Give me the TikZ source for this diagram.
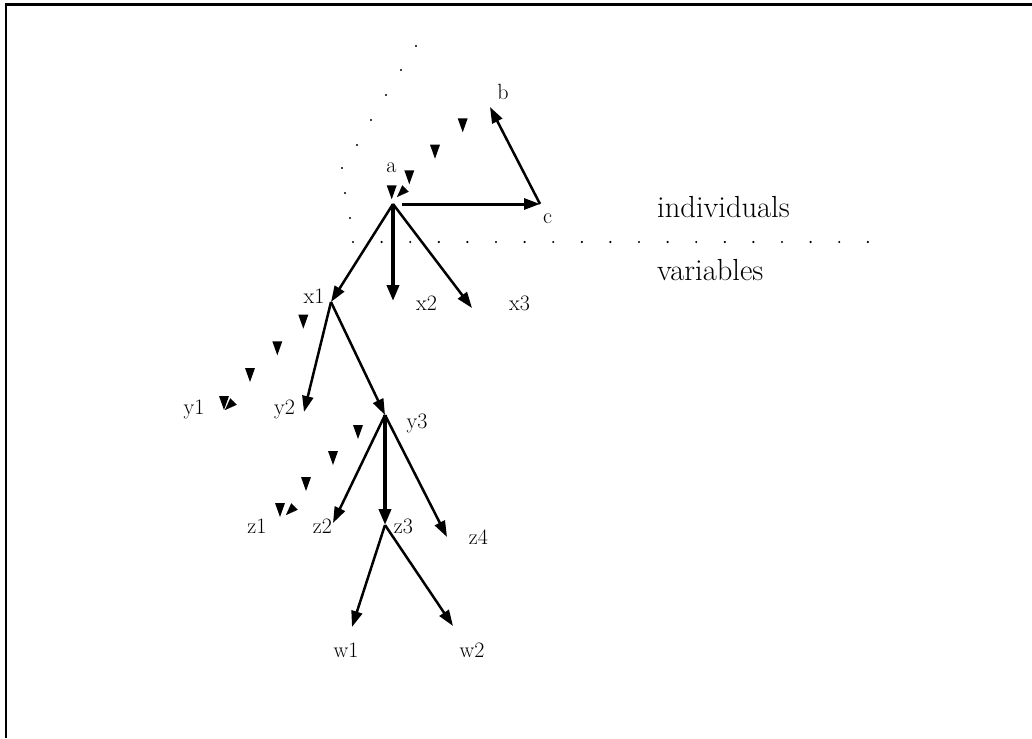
\documentclass[tikz,border=0pt]{standalone}
\usetikzlibrary{arrows.meta,calc}
\tikzset{
  arr/.style={line width=2.5pt, -{Triangle[length=16pt,width=11pt]}},
  thickarr/.style={line width=3.8pt, -{Triangle[length=16pt,width=12pt]}},
  lbl/.style={font=\fontsize{22}{26}\selectfont, inner sep=0pt, anchor=base},
  big/.style={font=\fontsize{30.5}{36}\selectfont, inner sep=0pt, anchor=base west},
  pics/dtri/.style={code={\fill (-5,-7) -- (5,-7) -- (0,7) -- cycle;}},
  endtip/.style={line width=0.01pt, -{Triangle[length=12pt,width=9pt]}},
  frame/.style={line width=2.8pt}
}
\begin{document}
\begin{tikzpicture}[x=1pt,y=-1pt]
\useasboundingbox (0,0) rectangle (1032,738);
\draw[frame] (1032,4.3) -- (6,4.3) -- (6,738);

% points
\coordinate (a) at (393,204);
\coordinate (c) at (540,204);
\coordinate (b) at (490,107);
\coordinate (x1) at (331,302);
\coordinate (x2) at (393,301);
\coordinate (x3) at (472,308);
\coordinate (y2) at (304,412);
\coordinate (y3) at (385,415);
\coordinate (z2) at (333,523);
\coordinate (z3) at (385,525);
\coordinate (z4) at (447,537);
\coordinate (w1) at (352,627);
\coordinate (w2) at (453,626);

% arrows
\draw[arr, line width=3pt, shorten <=9pt] (a) -- (c);
\draw[arr] (c) -- (b);
\draw[arr] (a) -- (x1);
\draw[thickarr] (a) -- (x2);
\draw[arr] (a) -- (x3);
\draw[arr] (x1) -- (y2);
\draw[arr] (x1) -- (y3);
\draw[arr] (y3) -- (z2);
\draw[thickarr] (y3) -- (z3);
\draw[arr] (y3) -- (z4);
\draw[arr] (z3) -- (w1);
\draw[arr] (z3) -- (w2);

% triangle-dashed links
\pic (tb1) at (462.7,125.3) {dtri};
\pic (tb2) at (435,151.7) {dtri};
\pic (tb3) at (409.3,177.3) {dtri};
\pic (tb4) at (391.7,192.3) {dtri};
\coordinate (ea) at (397,197);
\draw[endtip] ($(ea)+(9.5,-9.5)$) -- (ea);

\pic (ty1) at (303.3,321.7) {dtri};
\pic (ty2) at (277.3,348.3) {dtri};
\pic (ty3) at (250,375) {dtri};
\pic (ty4) at (224,403) {dtri};
\coordinate (ey) at (225,410);
\draw[endtip] ($(ey)+(9.5,-9.5)$) -- (ey);

\pic (tz1) at (358,432) {dtri};
\pic (tz2) at (333,458) {dtri};
\pic (tz3) at (306,484) {dtri};
\pic (tz4) at (280,510) {dtri};
\coordinate (ez) at (286,515);
\draw[endtip] ($(ez)+(9.5,-9.5)$) -- (ez);

% dotted boundary
\foreach \p in {(416,46),(401,70),(386,95),(371,120),(357,145),(342,168),(345,193),(350,218)}
  \fill \p circle (1.2);
\foreach \i in {0,...,18}
  \fill ({353+28.6*\i},242) circle (1.2);

% labels
\node[lbl] (la) at (391.5,172) {a};
\node[lbl] (lb) at (503,100) {b};
\node[lbl] (lc) at (547.5,223) {c};
\node[lbl] (lx1) at (314,303) {x1};
\node[lbl] (lx2) at (426.5,310) {x2};
\node[lbl] (lx3) at (519.5,310) {x3};
\node[lbl] (ly1) at (194,414) {y1};
\node[lbl] (ly2) at (284.5,414) {y2};
\node[lbl] (ly3) at (417,428) {y3};
\node[lbl] (lz1) at (257,533) {z1};
\node[lbl] (lz2) at (322.5,533) {z2};
\node[lbl] (lz3) at (403.5,533) {z3};
\node[lbl] (lz4) at (478.5,544) {z4};
\node[lbl] (lw1) at (346,657) {w1};
\node[lbl] (lw2) at (472,657) {w2};
\node[big] (ind) at (657,217) {individuals};
\node[big] (var) at (657,280) {variables};
\end{tikzpicture}
\end{document}
